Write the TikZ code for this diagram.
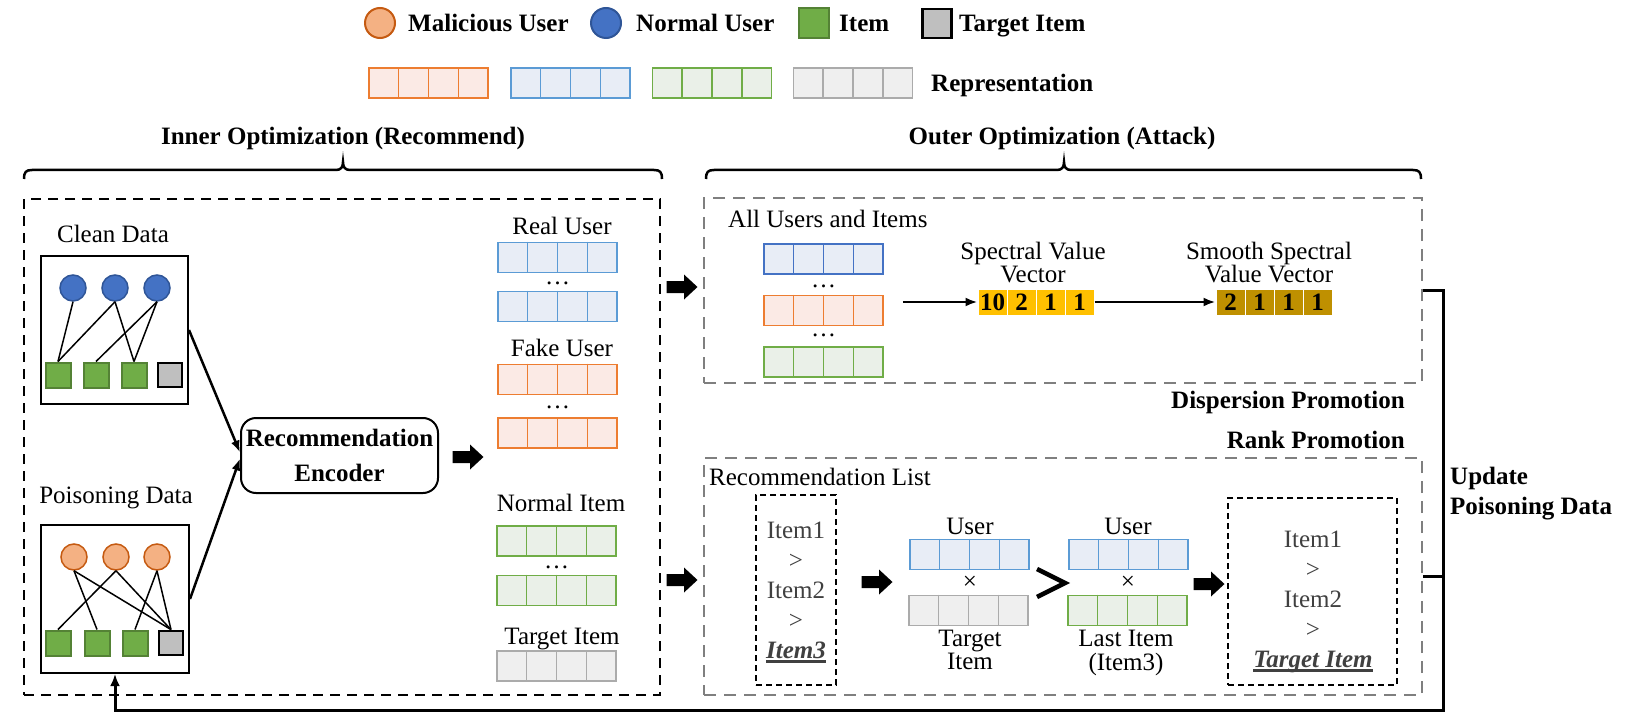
\documentclass[tikz,border=0pt]{standalone}
\usepackage{fontspec}
\setmainfont{Liberation Serif}
\usetikzlibrary{calc,arrows.meta}
\definecolor{orB}{HTML}{ED7D31}
\definecolor{orF}{HTML}{FBEAE5}
\definecolor{blB}{HTML}{5B9BD5}
\definecolor{blD}{HTML}{4472C4}
\definecolor{blF}{HTML}{E8EDF6}
\definecolor{grB}{HTML}{70AD47}
\definecolor{grF}{HTML}{EAF0E8}
\definecolor{gyB}{HTML}{ABABAB}
\definecolor{gyF}{HTML}{EFEFEF}
\definecolor{malF}{HTML}{F4B183}
\definecolor{malB}{HTML}{C55A11}
\definecolor{norF}{HTML}{4472C4}
\definecolor{norB}{HTML}{2F5597}
\definecolor{itF}{HTML}{70AD47}
\definecolor{itB}{HTML}{548235}
\definecolor{tgF}{HTML}{BFBFBF}
\definecolor{dashG}{HTML}{7F7F7F}
\definecolor{spY}{HTML}{FFC000}
\definecolor{spD}{HTML}{BF9000}
\definecolor{itemG}{HTML}{404040}
\newcommand\repvec[4]{%
  \node[draw=#3, fill=#4, line width=1.8pt, minimum width=119pt, minimum height=30pt, inner sep=0pt] (#1) at (#2) {};
  \draw[#3, line width=1.5pt]
    ($(#1.north west)!0.25!(#1.north east)$) -- ($(#1.south west)!0.25!(#1.south east)$)
    ($(#1.north west)!0.5!(#1.north east)$) -- ($(#1.south west)!0.5!(#1.south east)$)
    ($(#1.north west)!0.75!(#1.north east)$) -- ($(#1.south west)!0.75!(#1.south east)$);
}
\newcommand\blockarr[2]{%
  \coordinate (#1) at (#2);
  \fill[shift={(#1)}] (-15.5,-6) -- (2,-6) -- (2,-12.5) -- (15.5,0) -- (2,12.5) -- (2,6) -- (-15.5,6) -- cycle;
}
\newcommand\tul[1]{\setbox0\hbox{#1}\rlap{\raisebox{-4.5pt}{\rule{\wd0}{2.8pt}}}\box0}
\begin{document}
\begin{tikzpicture}[x=1pt,y=-1pt,
  txt/.style={font=\fontsize{25}{30}\selectfont, inner sep=0pt},
  btxt/.style={font=\bfseries\fontsize{25}{30}\selectfont, inner sep=0pt},
  malc/.style={circle, fill=malF, draw=malB, line width=2pt, inner sep=0pt},
  normc/.style={circle, fill=norF, draw=norB, line width=2pt, inner sep=0pt},
  itemsq/.style={rectangle, fill=itF, draw=itB, line width=2pt, inner sep=0pt},
  targsq/.style={rectangle, fill=tgF, draw=black, line width=2.8pt, inner sep=0pt},
  edge/.style={line width=1.5pt},
  conn/.style={line width=2.5pt, -{Latex[length=12pt,width=9pt]}},
  brc/.style={line width=2.5pt},
  innerbox/.style={draw, line width=2.5pt, dash pattern=on 10pt off 7pt, inner sep=0pt},
  graybox/.style={draw=dashG, line width=2.8pt, dash pattern=on 12pt off 8pt, inner sep=0pt},
  blkdash/.style={draw, line width=2pt, dash pattern=on 6pt off 4pt, inner sep=0pt},
  speccell/.style={draw=white, line width=1pt, minimum width=29pt, minimum height=26pt, inner sep=0pt, font=\bfseries\fontsize{25}{25}\selectfont},
  upd/.style={line width=3pt}
]
\useasboundingbox (0,0) rectangle (1629,714);

% ---------- legend ----------
\node[malc, minimum size=30pt] (lgm) at (380,23) {};
\node[btxt, anchor=base west] (lgmt) at (408,32) {Malicious User};
\node[normc, minimum size=30pt] (lgn) at (606,23) {};
\node[btxt, anchor=base west] (lgnt) at (636,32) {Normal User};
\node[itemsq, minimum size=30pt] (lgi) at (814,23.5) {};
\node[btxt, anchor=base west] (lgit) at (839,32) {Item};
\node[targsq, minimum size=29pt] (lgt) at (937,23.5) {};
\node[btxt, anchor=base west] (lgtt) at (959,32) {Target Item};
\repvec{lro}{428.5,83}{orB}{orF}
\repvec{lrb}{570.5,83}{blB}{blF}
\repvec{lrg}{712,83}{grB}{grF}
\repvec{lry}{853,83}{gyB}{gyF}
\node[btxt, anchor=base west] (lgr) at (931,92) {Representation};

% ---------- titles and braces ----------
\node[btxt, anchor=base] (tin) at (343,145) {Inner Optimization (Recommend)};
\node[btxt, anchor=base] (tout) at (1062,145) {Outer Optimization (Attack)};
\draw[brc] (24,179) .. controls (24,172) and (26,170) .. (32,170) -- (336,170)
  .. controls (341,170) and (343,167) .. (343,162) .. controls (343,167) and (345,170) .. (350,170)
  -- (654,170) .. controls (660,170) and (662,172) .. (662,179);
\draw[brc] (706,179) .. controls (706,172) and (708,170) .. (714,170) -- (1057,170)
  .. controls (1062,170) and (1064,167) .. (1064,162) .. controls (1064,167) and (1066,170) .. (1071,170)
  -- (1413,170) .. controls (1419,170) and (1421,172) .. (1421,179);

% ---------- boxes ----------
\node[innerbox, minimum width=636pt, minimum height=496pt] (inner) at (342,447) {};
\node[graybox, minimum width=718pt, minimum height=185pt] (disp) at (1063,290.5) {};
\node[graybox, minimum width=718pt, minimum height=237pt] (rank) at (1063,576.5) {};

% ---------- clean data ----------
\node[txt, anchor=base] (cdl) at (113,242) {Clean Data};
\node[draw, line width=2pt, minimum width=147pt, minimum height=148pt, inner sep=0pt] (clean) at (114.5,330) {};
\node[normc, minimum size=26pt, line width=1.5pt] (cu1) at (73,288) {};
\node[normc, minimum size=26pt, line width=1.5pt] (cu2) at (115,288) {};
\node[normc, minimum size=26pt, line width=1.5pt] (cu3) at (157,288) {};
\node[itemsq, minimum size=25pt] (ci1) at (58,375) {};
\node[itemsq, minimum size=25pt] (ci2) at (96,375) {};
\node[itemsq, minimum size=25pt] (ci3) at (134,375) {};
\node[targsq, minimum size=24pt] (ci4) at (170,375) {};
\draw[edge] (cu1.south) -- (ci1.north);
\draw[edge] (cu2.south) -- (ci1.north);
\draw[edge] (cu2.south) -- (ci3.north);
\draw[edge] (cu3.south) -- (ci2.north);
\draw[edge] (cu3.south) -- (ci3.north);

% ---------- poisoning data ----------
\node[txt, anchor=base] (pdl) at (116,503) {Poisoning Data};
\node[draw, line width=2pt, minimum width=148pt, minimum height=148pt, inner sep=0pt] (pois) at (115,599) {};
\node[malc, minimum size=26pt, line width=1.5pt] (pu1) at (74,557) {};
\node[malc, minimum size=26pt, line width=1.5pt] (pu2) at (116,557) {};
\node[malc, minimum size=26pt, line width=1.5pt] (pu3) at (157,557) {};
\node[itemsq, minimum size=25pt] (pi1) at (58,643) {};
\node[itemsq, minimum size=25pt] (pi2) at (97,643) {};
\node[itemsq, minimum size=25pt] (pi3) at (135,643) {};
\node[targsq, minimum size=24pt] (pi4) at (171,643) {};
\draw[edge] (pu1.south) -- (pi2.north);
\draw[edge] (pu1.south) -- (pi4.north);
\draw[edge] (pu2.south) -- (pi1.north);
\draw[edge] (pu2.south) -- (pi4.north);
\draw[edge] (pu3.south) -- (pi3.north);
\draw[edge] (pu3.south) -- (pi4.north);

% ---------- encoder ----------
\node[draw, line width=2pt, rounded corners=15pt, minimum width=197pt, minimum height=75pt, inner sep=0pt,
      align=center, font=\bfseries\fontsize{25}{35}\selectfont] (enc) at (339.5,455.5) {Recommendation\\Encoder};
\draw[conn] (clean.east) -- ([yshift=3pt]enc.west);
\draw[conn] (pois.east) -- ([yshift=-3pt]enc.west);
\blockarr{ba1}{468,457}

% ---------- representations column ----------
\node[txt, anchor=base] (rul) at (562,234) {Real User};
\repvec{ru1}{557.5,257.5}{blB}{blF}
\node[txt] (rud) at (557.5,283) {…};
\repvec{ru2}{557.5,306.5}{blB}{blF}
\node[txt, anchor=base] (ful) at (562,356) {Fake User};
\repvec{fu1}{557.5,379.5}{orB}{orF}
\node[txt] (fud) at (557.5,407) {…};
\repvec{fu2}{557.5,433}{orB}{orF}
\node[txt, anchor=base] (nil) at (561,511) {Normal Item};
\repvec{ni1}{556.5,541}{grB}{grF}
\node[txt] (nid) at (556.5,567) {…};
\repvec{ni2}{556.5,590.5}{grB}{grF}
\node[txt, anchor=base] (til) at (562,644) {Target Item};
\repvec{ti1}{556.5,666}{gyB}{gyF}

\blockarr{ba2}{682,287}
\blockarr{ba3}{682,580}

% ---------- dispersion ----------
\node[txt, anchor=base west] (aui) at (728,227) {All Users and Items};
\repvec{dv1}{823.5,259}{blD}{blF}
\node[txt] (dd1) at (823.5,286) {…};
\repvec{dv2}{823.5,310.5}{orB}{orF}
\node[txt] (dd2) at (823.5,335) {…};
\repvec{dv3}{823.5,362}{grB}{grF}
\node[txt, align=center, font=\fontsize{25}{20}\selectfont] (svl) at (1033,262.5) {Spectral Value\\Vector};
\node[txt, align=center, font=\fontsize{25}{20}\selectfont] (ssl) at (1269,262.5) {Smooth Spectral\\Value Vector};
\foreach \v [count=\i] in {10,2,1,1} \node[speccell, fill=spY] (sp\i) at ({963.5+29*\i},302) {\v};
\foreach \v [count=\i] in {2,1,1,1} \node[speccell, fill=spD] (sm\i) at ({1201.5+29*\i},302) {\v};
\draw[conn] ([xshift=19pt]dv2.east |- sp1.west) -- (sp1.west);
\draw[conn] (sp4.east) -- (sm1.west);
\node[btxt, anchor=base east] (dpl) at (1405,408) {Dispersion Promotion};
\node[btxt, anchor=base east] (rpl) at (1405,448) {Rank Promotion};

% ---------- rank ----------
\node[txt, anchor=base west] (rll) at (709,485) {Recommendation List};
\node[blkdash, minimum width=80pt, minimum height=190pt] (lb) at (796,590) {};
\node[txt, text=itemG, align=center] (lt) at (796,592) {Item1\\>\\Item2\\>\\\tul{\textbf{\textit{Item3}}}};
\blockarr{ba4}{877,582}
\node[txt, anchor=base] (u1) at (970,534) {User};
\repvec{uv1}{969.5,554.5}{blB}{blF}
\node[txt] (x1) at (970,583) {×};
\repvec{tv1}{968.5,610.5}{gyB}{gyF}
\node[txt, align=center, font=\fontsize{25}{21}\selectfont] (tl1) at (970,650) {Target\\Item};
\draw[line width=4.5pt] (1037,569) -- (1065,583) -- (1037,597);
\node[txt, anchor=base] (u2) at (1128,534) {User};
\repvec{uv2}{1128.5,554.5}{blB}{blF}
\node[txt] (x2) at (1128,583) {×};
\repvec{gv2}{1127.5,610.5}{grB}{grF}
\node[txt, align=center, font=\fontsize{25}{23.5}\selectfont] (tl2) at (1126,653) {Last Item\\(Item3)};
\blockarr{ba5}{1209,584}
\node[blkdash, minimum width=169pt, minimum height=187pt] (tb) at (1312.5,591.5) {};
\node[txt, text=itemG, align=center] (tt) at (1313,602) {Item1\\>\\Item2\\>\\\tul{\textbf{\textit{Target Item}}}};

% ---------- update ----------
\coordinate (ua) at (1443,290.5);
\coordinate (ub) at (1443,710);
\draw[upd, -{Latex[length=12pt,width=10pt]}] (disp.east) -- (ua) -- (ub) -| (pois.south);
\draw[upd] (rank.east) -- (rank.east -| ua);
\node[btxt, anchor=west, align=left] (upl) at (1450,494) {Update\\Poisoning Data};
\end{tikzpicture}
\end{document}
